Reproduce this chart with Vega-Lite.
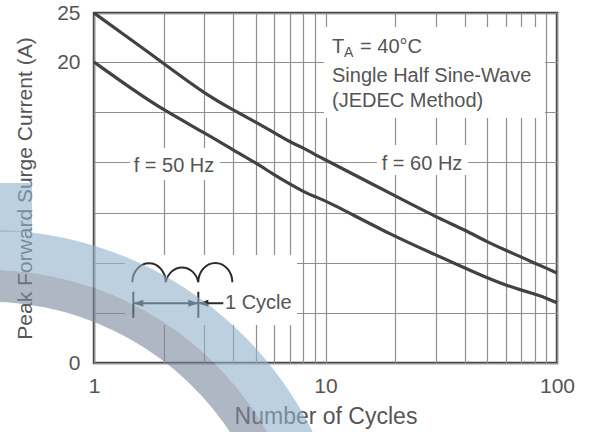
{
  "$schema": "https://vega.github.io/schema/vega-lite/v6.json",
  "width": 463,
  "height": 350,
  "autosize": {"type": "none"},
  "padding": {"left": 94, "top": 13, "right": 32, "bottom": 69},
  "background": "white",
  "config": {
    "font": "Liberation Sans",
    "view": {"stroke": "#454545", "strokeWidth": 2.5},
    "axis": {
      "grid": true,
      "gridColor": "#8f8f8f",
      "gridWidth": 1.2,
      "ticks": false,
      "domain": false,
      "labelFont": "Liberation Sans",
      "labelFontSize": 21,
      "labelColor": "#555555",
      "labelOverlap": false,
      "labelFlush": false,
      "titleFont": "Liberation Sans",
      "titleFontWeight": "normal",
      "titleColor": "#555555"
    }
  },
  "datasets": {
    "curves": [
      {"freq": "60 Hz", "cycles": 1, "current": 25},
      {"freq": "60 Hz", "cycles": 1.5, "current": 22.0},
      {"freq": "60 Hz", "cycles": 2, "current": 19.9},
      {"freq": "60 Hz", "cycles": 3, "current": 17.9},
      {"freq": "60 Hz", "cycles": 4, "current": 16.8},
      {"freq": "60 Hz", "cycles": 5, "current": 16.0},
      {"freq": "60 Hz", "cycles": 6, "current": 15.3},
      {"freq": "60 Hz", "cycles": 7, "current": 14.7},
      {"freq": "60 Hz", "cycles": 8, "current": 14.3},
      {"freq": "60 Hz", "cycles": 9, "current": 13.85},
      {"freq": "60 Hz", "cycles": 10, "current": 13.5},
      {"freq": "60 Hz", "cycles": 20, "current": 11.1},
      {"freq": "60 Hz", "cycles": 30, "current": 9.7},
      {"freq": "60 Hz", "cycles": 40, "current": 8.84},
      {"freq": "60 Hz", "cycles": 50, "current": 8.04},
      {"freq": "60 Hz", "cycles": 60, "current": 7.5},
      {"freq": "60 Hz", "cycles": 70, "current": 7.04},
      {"freq": "60 Hz", "cycles": 80, "current": 6.64},
      {"freq": "60 Hz", "cycles": 90, "current": 6.3},
      {"freq": "60 Hz", "cycles": 100, "current": 5.98},
      {"freq": "50 Hz", "cycles": 1, "current": 20},
      {"freq": "50 Hz", "cycles": 1.5, "current": 18.07},
      {"freq": "50 Hz", "cycles": 2, "current": 16.8},
      {"freq": "50 Hz", "cycles": 3, "current": 15.3},
      {"freq": "50 Hz", "cycles": 4, "current": 14.15},
      {"freq": "50 Hz", "cycles": 5, "current": 13.3},
      {"freq": "50 Hz", "cycles": 6, "current": 12.5},
      {"freq": "50 Hz", "cycles": 7, "current": 11.9},
      {"freq": "50 Hz", "cycles": 8, "current": 11.4},
      {"freq": "50 Hz", "cycles": 9, "current": 11.05},
      {"freq": "50 Hz", "cycles": 10, "current": 10.8},
      {"freq": "50 Hz", "cycles": 20, "current": 8.37},
      {"freq": "50 Hz", "cycles": 30, "current": 7.18},
      {"freq": "50 Hz", "cycles": 40, "current": 6.31},
      {"freq": "50 Hz", "cycles": 50, "current": 5.65},
      {"freq": "50 Hz", "cycles": 60, "current": 5.18},
      {"freq": "50 Hz", "cycles": 70, "current": 4.85},
      {"freq": "50 Hz", "cycles": 80, "current": 4.58},
      {"freq": "50 Hz", "cycles": 90, "current": 4.32},
      {"freq": "50 Hz", "cycles": 100, "current": 4.0}
    ],
    "masks": [
      {"name": "conditions", "c1": 9.85, "c2": 88.8, "i1": 16.28, "i2": 23.57},
      {"name": "f50", "c1": 1.43, "c2": 3.5, "i1": 12.16, "i2": 14.29},
      {"name": "f60", "c1": 16.7, "c2": 41.2, "i1": 12.49, "i2": 14.48},
      {"name": "cycle", "c1": 1.36, "c2": 7.53, "i1": 2.52, "i2": 7.18}
    ],
    "centerLabels": [
      {"label": "f = 50 Hz", "cycles": 2.215, "current": 12.71},
      {"label": "f = 60 Hz", "cycles": 26.12, "current": 12.82}
    ],
    "leftLabels": [
      {"label": "Single Half Sine-Wave", "cycles": 10.67, "current": 18.69},
      {"label": "(JEDEC Method)", "cycles": 10.67, "current": 16.98},
      {"label": "1 Cycle", "cycles": 3.68, "current": 3.59}
    ],
    "ta": [
      {"part": "T", "cycles": 10.67, "current": 20.89},
      {"part": "A", "cycles": 10.67, "current": 20.89},
      {"part": "rest", "cycles": 10.67, "current": 20.89}
    ],
    "diagram": [
      {"cycles": 2.424, "current": 4.85}
    ],
    "watermark": [
      {"cycles": 0.348, "current": -15.2}
    ],
    "watermarkBlock": [
      {"c1": 0.3, "c2": 0.54, "i1": 8.7, "i2": 11.96}
    ]
  },
  "layer": [
    {
      "data": {"name": "masks"},
      "mark": {"type": "rect", "fill": "white", "stroke": null},
      "encoding": {
        "x": {"field": "c1", "type": "quantitative", "title": "Number of Cycles", "scale": {"type": "log", "domain": [1, 100], "nice": false},
          "axis": {"values": [1, 2, 3, 4, 5, 6, 7, 8, 9, 10, 20, 30, 40, 50, 60, 70, 80, 90, 100],
            "labelExpr": "datum.value == 1 ? '1' : datum.value == 10 ? '10' : datum.value == 100 ? '100' : ''",
            "labelPadding": 12, "titlePadding": 9, "titleFontSize": 23}},
        "x2": {"field": "c2"},
        "y": {"field": "i1", "type": "quantitative", "title": "Peak Forward Surge Current (A)", "scale": {"type": "linear", "domain": [0, 20, 25], "range": [350, 49, 0], "nice": false, "zero": false},
          "axis": {"values": [0, 3.3333333, 6.6666667, 10, 13.3333333, 16.6666667, 20, 25],
            "labelExpr": "datum.value == 0 ? '0' : datum.value == 20 ? '20' : datum.value == 25 ? '25' : ''",
            "labelPadding": 14, "titlePadding": 21, "titleFontSize": 21}},
        "y2": {"field": "i2"}
      }
    },
    {
      "data": {"name": "curves"},
      "mark": {"type": "line", "color": "#424242", "strokeWidth": 3.2, "interpolate": "basis"},
      "encoding": {
        "x": {"field": "cycles", "type": "quantitative", "title": "Number of Cycles", "scale": {"type": "log", "domain": [1, 100], "nice": false}},
        "y": {"field": "current", "type": "quantitative", "title": "Peak Forward Surge Current (A)", "scale": {"type": "linear", "domain": [0, 20, 25], "range": [350, 49, 0], "nice": false, "zero": false}},
        "detail": {"field": "freq"}
      }
    },
    {
      "data": {"name": "centerLabels"},
      "mark": {"type": "text", "align": "center", "baseline": "alphabetic", "fontSize": 20, "color": "#555555"},
      "encoding": {
        "x": {"field": "cycles", "type": "quantitative", "title": "Number of Cycles", "scale": {"type": "log", "domain": [1, 100], "nice": false}},
        "y": {"field": "current", "type": "quantitative", "title": "Peak Forward Surge Current (A)", "scale": {"type": "linear", "domain": [0, 20, 25], "range": [350, 49, 0], "nice": false, "zero": false}},
        "text": {"field": "label"}
      }
    },
    {
      "data": {"name": "leftLabels"},
      "mark": {"type": "text", "align": "left", "baseline": "alphabetic", "fontSize": 20, "color": "#555555"},
      "encoding": {
        "x": {"field": "cycles", "type": "quantitative", "title": "Number of Cycles", "scale": {"type": "log", "domain": [1, 100], "nice": false}},
        "y": {"field": "current", "type": "quantitative", "title": "Peak Forward Surge Current (A)", "scale": {"type": "linear", "domain": [0, 20, 25], "range": [350, 49, 0], "nice": false, "zero": false}},
        "text": {"field": "label"}
      }
    },
    {
      "data": {"name": "ta"},
      "transform": [{"filter": "datum.part == 'T'"}],
      "mark": {"type": "text", "align": "left", "baseline": "alphabetic", "fontSize": 20, "color": "#555555", "text": "T"},
      "encoding": {
        "x": {"field": "cycles", "type": "quantitative", "title": "Number of Cycles", "scale": {"type": "log", "domain": [1, 100], "nice": false}},
        "y": {"field": "current", "type": "quantitative", "title": "Peak Forward Surge Current (A)", "scale": {"type": "linear", "domain": [0, 20, 25], "range": [350, 49, 0], "nice": false, "zero": false}}
      }
    },
    {
      "data": {"name": "ta"},
      "transform": [{"filter": "datum.part == 'A'"}],
      "mark": {"type": "text", "align": "left", "baseline": "alphabetic", "fontSize": 14, "color": "#555555", "text": "A", "dx": 12, "dy": 4},
      "encoding": {
        "x": {"field": "cycles", "type": "quantitative", "title": "Number of Cycles", "scale": {"type": "log", "domain": [1, 100], "nice": false}},
        "y": {"field": "current", "type": "quantitative", "title": "Peak Forward Surge Current (A)", "scale": {"type": "linear", "domain": [0, 20, 25], "range": [350, 49, 0], "nice": false, "zero": false}}
      }
    },
    {
      "data": {"name": "ta"},
      "transform": [{"filter": "datum.part == 'rest'"}],
      "mark": {"type": "text", "align": "left", "baseline": "alphabetic", "fontSize": 20, "color": "#555555", "text": "= 40°C", "dx": 28},
      "encoding": {
        "x": {"field": "cycles", "type": "quantitative", "title": "Number of Cycles", "scale": {"type": "log", "domain": [1, 100], "nice": false}},
        "y": {"field": "current", "type": "quantitative", "title": "Peak Forward Surge Current (A)", "scale": {"type": "linear", "domain": [0, 20, 25], "range": [350, 49, 0], "nice": false, "zero": false}}
      }
    },
    {
      "data": {"name": "diagram"},
      "mark": {"type": "point", "filled": false, "stroke": "#2a2a2a", "strokeWidth": 2, "opacity": 1, "size": 10000,
        "shape": "M-1.014,-0.154 A0.334,0.38 0 0 1 -0.346,-0.154 A0.334,0.38 0 0 1 0.306,-0.154 A0.334,0.38 0 0 1 0.986,-0.154 M-0.994,0.034 L-0.994,0.554 M0.306,0.034 L0.306,0.554 M-0.994,0.266 L0.306,0.266 M0.306,0.266 L0.806,0.266"},
      "encoding": {
        "x": {"field": "cycles", "type": "quantitative", "title": "Number of Cycles", "scale": {"type": "log", "domain": [1, 100], "nice": false}},
        "y": {"field": "current", "type": "quantitative", "title": "Peak Forward Surge Current (A)", "scale": {"type": "linear", "domain": [0, 20, 25], "range": [350, 49, 0], "nice": false, "zero": false}}
      }
    },
    {
      "data": {"name": "diagram"},
      "mark": {"type": "point", "filled": true, "fill": "#2a2a2a", "strokeWidth": 0, "opacity": 1, "size": 10000,
        "shape": "M-0.994,0.266 L-0.794,0.196 L-0.794,0.336 Z M0.306,0.266 L0.106,0.196 L0.106,0.336 Z M0.306,0.266 L0.506,0.196 L0.506,0.336 Z"},
      "encoding": {
        "x": {"field": "cycles", "type": "quantitative", "title": "Number of Cycles", "scale": {"type": "log", "domain": [1, 100], "nice": false}},
        "y": {"field": "current", "type": "quantitative", "title": "Peak Forward Surge Current (A)", "scale": {"type": "linear", "domain": [0, 20, 25], "range": [350, 49, 0], "nice": false, "zero": false}}
      }
    },
    {
      "data": {"name": "watermark"},
      "mark": {"type": "arc", "radius": 362, "radius2": 322, "theta": -0.3, "theta2": 1.7, "fill": "#8fb0cc", "opacity": 0.6},
      "encoding": {
        "x": {"field": "cycles", "type": "quantitative", "title": "Number of Cycles", "scale": {"type": "log", "domain": [1, 100], "nice": false}},
        "y": {"field": "current", "type": "quantitative", "title": "Peak Forward Surge Current (A)", "scale": {"type": "linear", "domain": [0, 20, 25], "range": [350, 49, 0], "nice": false, "zero": false}}
      }
    },
    {
      "data": {"name": "watermark"},
      "mark": {"type": "arc", "radius": 322, "radius2": 290, "theta": -0.3, "theta2": 1.7, "fill": "#7a879e", "opacity": 0.6},
      "encoding": {
        "x": {"field": "cycles", "type": "quantitative", "title": "Number of Cycles", "scale": {"type": "log", "domain": [1, 100], "nice": false}},
        "y": {"field": "current", "type": "quantitative", "title": "Peak Forward Surge Current (A)", "scale": {"type": "linear", "domain": [0, 20, 25], "range": [350, 49, 0], "nice": false, "zero": false}}
      }
    },
    {
      "data": {"name": "watermarkBlock"},
      "mark": {"type": "rect", "fill": "#8fb0cc", "opacity": 0.6},
      "encoding": {
        "x": {"field": "c1", "type": "quantitative", "title": "Number of Cycles", "scale": {"type": "log", "domain": [1, 100], "nice": false}},
        "x2": {"field": "c2"},
        "y": {"field": "i1", "type": "quantitative", "title": "Peak Forward Surge Current (A)", "scale": {"type": "linear", "domain": [0, 20, 25], "range": [350, 49, 0], "nice": false, "zero": false}},
        "y2": {"field": "i2"}
      }
    }
  ]
}
